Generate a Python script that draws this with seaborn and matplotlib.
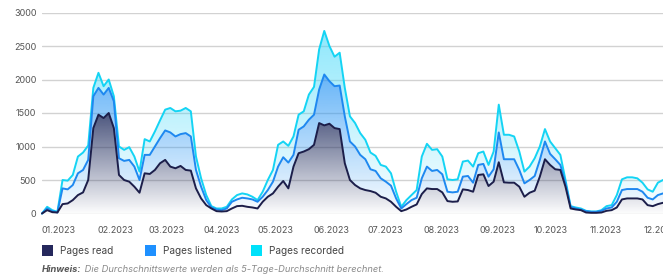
import numpy as np
import pandas as pd
import matplotlib
matplotlib.use("Agg")
import matplotlib.pyplot as plt
import matplotlib.dates as mdates
from matplotlib.patches import Rectangle
from matplotlib.colors import to_rgb
import seaborn as sns

# 5-day averages, one value roughly every 3 days through 2023
pages_read = [0, 50, 20, 15, 140, 150, 200, 275, 315, 500, 1275, 1475, 1425, 1500, 1275, 575, 500, 475, 400, 310,
              600, 590, 650, 750, 800, 700, 675, 710, 650, 640, 375, 225, 125, 75, 35, 30, 35, 75, 110, 115, 100, 90,
              75, 175, 250, 300, 400, 485, 375, 700, 900, 925, 960, 1025, 1350, 1315, 1340, 1275, 1260, 750, 500, 425,
              375, 350, 335, 310, 250, 225, 175, 100, 35, 60, 100, 135, 290, 375, 365, 365, 315, 185, 175, 180,
              360, 350, 325, 575, 585, 410, 475, 765, 465, 460, 460, 400, 250, 310, 340, 550, 810, 725, 660, 650,
              400, 75, 60, 50, 15, 10, 10, 15, 40, 50, 90, 210, 225, 225, 225, 210, 125, 110, 140, 160]
pages_listened = [0, 75, 35, 15, 375, 360, 425, 600, 650, 800, 1750, 1875, 1775, 1875, 1675, 825, 785, 800, 700, 500,
                  875, 875, 1000, 1125, 1240, 1210, 1150, 1185, 1200, 1150, 650, 400, 200, 90, 60, 50, 75, 175, 210, 235, 225, 210,
                  175, 250, 350, 475, 700, 840, 760, 875, 1250, 1300, 1400, 1475, 1850, 2075, 1975, 1900, 1910, 1450, 1075, 1000,
                  875, 810, 660, 635, 525, 475, 415, 225, 75, 140, 200, 235, 525, 700, 635, 650, 585, 325, 315, 325,
                  550, 560, 460, 725, 740, 550, 660, 1210, 810, 810, 810, 650, 450, 500, 560, 800, 1075, 890, 810, 725,
                  450, 100, 75, 60, 35, 25, 25, 40, 75, 90, 175, 350, 365, 365, 365, 325, 235, 210, 275, 300]
pages_recorded = [0, 100, 50, 25, 500, 490, 575, 850, 910, 1015, 1875, 2100, 1900, 2000, 1750, 1000, 950, 990, 850, 625,
                  1110, 1075, 1225, 1390, 1550, 1575, 1525, 1535, 1575, 1525, 850, 525, 275, 110, 75, 75, 100, 210, 275, 300, 285, 250,
                  200, 325, 500, 650, 1025, 1075, 1010, 1150, 1475, 1525, 1775, 1890, 2450, 2725, 2500, 2340, 2400, 1875, 1450, 1350,
                  1200, 1100, 910, 860, 725, 700, 600, 325, 100, 200, 275, 350, 850, 1040, 950, 960, 850, 510, 500, 510,
                  775, 790, 700, 900, 925, 725, 925, 1625, 1175, 1175, 1150, 925, 625, 700, 825, 1000, 1260, 1075, 975, 875,
                  500, 110, 90, 75, 40, 30, 30, 50, 110, 125, 275, 510, 540, 540, 525, 460, 360, 325, 460, 500]

series_names = ["Pages read", "Pages listened", "Pages recorded"]
line_colors = ["#1c1e4a", "#1e88f0", "#14d4f4"]
legend_colors = ["#25285c", "#1e90ff", "#00e1fa"]
y_ticks = [0, 500, 1000, 1500, 2000, 2500, 3000]
footnote_bold = "Hinweis:"
footnote_text = " Die Durchschnittswerte werden als 5-Tage-Durchschnitt berechnet."

dates = pd.date_range("2023-01-01", "2023-12-12", periods=len(pages_read))
df = pd.DataFrame({"date": dates, "Pages read": pages_read,
                   "Pages listened": pages_listened, "Pages recorded": pages_recorded})
long_df = df.melt(id_vars="date", var_name="series", value_name="value")

sns.set_style("white")
plt.rcParams["font.family"] = ["Inter", "DejaVu Sans"]

W, H = 663, 278
fig = plt.figure(figsize=(W / 100, H / 100), dpi=100)
ax = fig.add_axes([42 / W, 64.5 / H, 621 / W, 201 / H])


def gradient_fill(ax, x, low, high, color, alpha_top, y_top, z):
    poly = ax.fill_between(x, low, high, facecolor="none", edgecolor="none")
    path = poly.get_paths()[0]
    r, g, b = to_rgb(color)
    yy = np.linspace(0, 3000, 300)
    alpha = np.clip(yy / y_top, 0, 1) * alpha_top + 0.02
    img = np.zeros((300, 1, 4))
    img[:, 0, 0] = r
    img[:, 0, 1] = g
    img[:, 0, 2] = b
    img[:, 0, 3] = alpha
    xn = mdates.date2num(x)
    im = ax.imshow(img, aspect="auto", origin="lower",
                   extent=[xn[0], xn[-1], 0, 3000], zorder=z)
    im.set_clip_path(path, transform=ax.transData)


zero = np.zeros(len(pages_read))
gradient_fill(ax, dates, np.array(pages_listened), np.array(pages_recorded), "#3cd7fa", 0.55, 2700, 1.0)
gradient_fill(ax, dates, np.array(pages_read), np.array(pages_listened), "#2896f5", 0.7, 2100, 1.1)
gradient_fill(ax, dates, zero, np.array(pages_read), "#283464", 0.82, 1500, 1.2)

sns.lineplot(data=long_df, x="date", y="value", hue="series", hue_order=series_names[::-1],
             palette=dict(zip(series_names, line_colors)), linewidth=1.4, legend=False, ax=ax, zorder=3)
for ln in ax.lines:
    ln.set_clip_on(False)

ax.set_xlim(dates[0], dates[-1])
ax.set_ylim(0, 3000)
ax.set_yticks(y_ticks)
ax.yaxis.grid(True, color="#d2d2d2", linewidth=1.0, zorder=0)
ax.set_axisbelow(True)
for s in ax.spines.values():
    s.set_visible(False)

month_ticks = pd.date_range("2023-01-01", "2023-12-01", freq="MS")
ax.set_xticks(month_ticks)
ax.xaxis.set_major_formatter(mdates.DateFormatter("%m.%Y"))
for lab in ax.get_xticklabels():
    lab.set_horizontalalignment("left")
ax.tick_params(axis="x", length=0, pad=9, labelsize=6.5, labelcolor="#555555")
ax.tick_params(axis="y", length=0, pad=4, labelsize=6.5, labelcolor="#555555")
ax.set_xlabel("")
ax.set_ylabel("")

# legend below the axes
legend_x = [42, 145, 251]
for xpos, name, col in zip(legend_x, series_names, legend_colors):
    fig.patches.append(Rectangle((xpos / W, (H - 256) / H), 11 / W, 11 / H,
                                 transform=fig.transFigure, facecolor=col, edgecolor="none"))
    fig.text((xpos + 18) / W, (H - 250.5) / H, name, fontsize=7.2, color="#444444", va="center")

t1 = fig.text(42 / W, (H - 270) / H, footnote_bold, fontsize=6.7, color="#555555",
              fontweight="bold", fontstyle="italic", va="center")
ax.annotate(footnote_text, xy=(1, 0), xycoords=t1, va="bottom", ha="left",
            fontsize=6.7, color="#8a8a8a", fontstyle="italic", annotation_clip=False)

fig.savefig("out.png", dpi=100)
